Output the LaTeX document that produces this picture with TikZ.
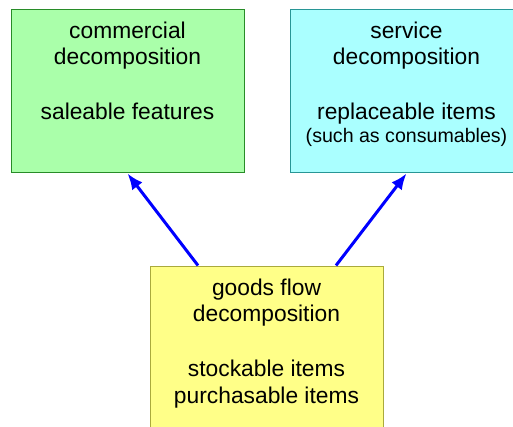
\documentclass[tikz,border=0pt]{standalone}
\usepackage{fontspec}
\setmainfont{Liberation Sans}
\usetikzlibrary{arrows.meta}

\definecolor{boxgreen}{RGB}{170,255,170}
\definecolor{linegreen}{RGB}{40,140,40}
\definecolor{boxcyan}{RGB}{170,255,255}
\definecolor{linecyan}{RGB}{40,150,150}
\definecolor{boxyellow}{RGB}{255,255,136}
\definecolor{lineyellow}{RGB}{170,170,60}

\tikzset{
  decomp/.style={draw, line width=1pt, minimum width=233pt, minimum height=163pt, inner sep=0pt},
  boxtext/.style={anchor=north, align=center, inner sep=0pt, font=\fontsize{22.8}{26.5}\selectfont},
  flow/.style={-{Latex[length=16pt,width=13pt]}, blue, line width=3pt}
}

\begin{document}
\begin{tikzpicture}[x=1pt, y=1pt]

    \useasboundingbox (0,0) rectangle (513,426);
    \clip (0,0) rectangle (513,426);

    % Boxes
    \node[decomp, fill=boxgreen, draw=linegreen] (commercial) at (127.5,334.5) {};
    \node[decomp, fill=boxcyan, draw=linecyan] (service) at (406.5,334.5) {};
    \node[decomp, fill=boxyellow, draw=lineyellow] (goods) at (266.5,78.5) {};

    % Texts
    \node[boxtext] (commercialtext) at ([yshift=-12pt]commercial.north)
        {commercial\\decomposition\\[28.5pt]saleable features};
    \node[boxtext] (servicetext) at ([yshift=-12pt]service.north)
        {service\\decomposition\\[28.5pt]replaceable items\\[-4pt]{\fontsize{19.6}{20}\selectfont (such as consumables)}};
    \node[boxtext] (goodstext) at ([yshift=-13pt]goods.north)
        {goods flow\\decomposition\\[28.5pt]stockable items\\purchasable items};

    % Arrows
    \draw[flow] ([xshift=-68.5pt]goods.north) -- (commercial.south);
    \draw[flow] ([xshift=69.5pt]goods.north) -- (service.south);
\end{tikzpicture}
\end{document}
